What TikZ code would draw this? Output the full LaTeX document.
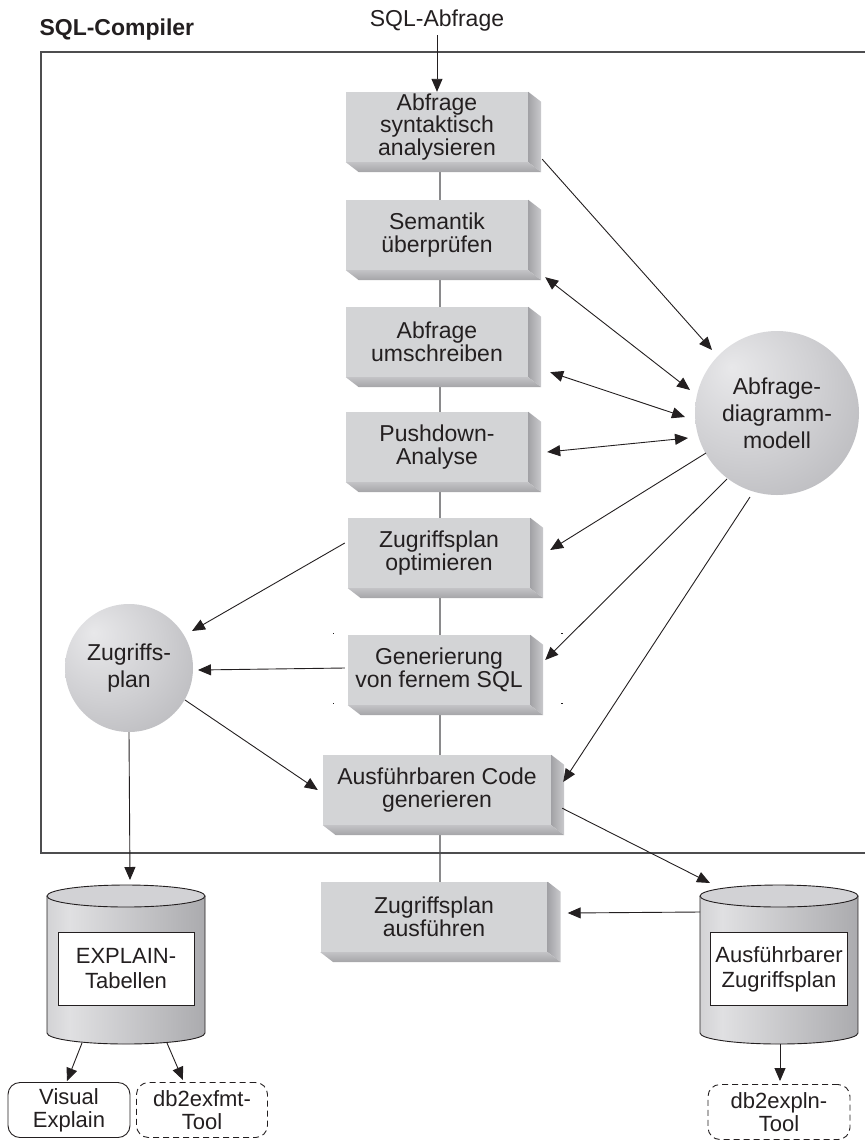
\documentclass[tikz,border=0pt]{standalone}
\usepackage{fontspec}
\setmainfont{Liberation Sans}
\usetikzlibrary{arrows.meta,calc,backgrounds}

\definecolor{ink}{HTML}{231F20}
\definecolor{face}{HTML}{D3D4D6}
\definecolor{sidedark}{HTML}{A2A2A6}
\definecolor{sidelight}{HTML}{CACACD}
\definecolor{bottomlight}{HTML}{C2C2C5}
\definecolor{bottomdark}{HTML}{A4A4A7}
\definecolor{framegrey}{HTML}{4D4D4F}
\definecolor{spine}{HTML}{8A8A8C}
\definecolor{orbhi}{HTML}{E8E8EA}
\definecolor{orbmid}{HTML}{D0D0D3}
\definecolor{orblo}{HTML}{AAAAAE}
\definecolor{orbedge}{HTML}{94949A}
\definecolor{cylA}{HTML}{A3A3A6}
\definecolor{cylB}{HTML}{E0E0E2}
\definecolor{cylC}{HTML}{8C8C90}
\definecolor{captop}{HTML}{D2D2D5}

\pgfdeclareradialshading{orb}{\pgfpoint{-14bp}{14bp}}{color(0bp)=(orbhi); color(22bp)=(orbmid); color(52bp)=(orblo); color(72bp)=(orbedge)}
\pgfdeclarehorizontalshading{cylbody}{100bp}{color(0bp)=(cylA); color(32bp)=(cylB); color(100bp)=(cylC)}

\tikzset{
  txt/.style={text=ink, font=\fontsize{23}{23}\selectfont},
  stepbox/.style={rectangle, fill=face, inner sep=0pt, minimum width=182pt,
    minimum height=70pt, align=center, txt},
  orbnode/.style={circle, shading=orb, inner sep=0pt, align=center, text=ink,
    font=\fontsize{23}{27}\selectfont},
  label box/.style={rectangle, draw=ink, fill=white, line width=0.9pt,
    minimum width=136pt, minimum height=73pt, align=center, inner sep=0pt,
    text=ink, font=\fontsize{22}{25}\selectfont},
  tool/.style={rectangle, rounded corners=12pt, draw=ink, line width=0.9pt,
    minimum height=55pt, align=center, inner sep=0pt, text=ink,
    font=\fontsize{22}{23}\selectfont},
  dashtool/.style={tool, dash pattern=on 6pt off 4pt},
  tip/.tip={Triangle[length=13pt,width=11pt]},
  link/.style={draw=ink, line width=0.9pt, -tip},
  duplex/.style={draw=ink, line width=0.9pt, tip-tip},
  spineline/.style={draw=spine, line width=1.4pt},
  frame/.style={draw=framegrey, line width=1.6pt},
}

% right and bottom faces of a raised process box
\newcommand\raisedepth[1]{%
  \shade[left color=sidedark, right color=sidelight]
    (#1.north east) -- ++(13,10) -- ($(#1.south east)+(13,10)$) -- (#1.south east) -- cycle;
  \shade[top color=bottomlight, bottom color=bottomdark]
    (#1.south west) -- (#1.south east) -- ++(13,10) -- ($(#1.south west)+(13,10)$) -- cycle;
}

% database cylinder: #1 name, #2 centre x, #3 top y
\newcommand\dbstore[3]{%
  \coordinate (#1) at (#2,#3);
  \coordinate (#1b) at (#2,#3+137);
  \shade[shading=cylbody] ($(#1)+(-79,0)$) -- ($(#1b)+(-79,0)$)
    arc[start angle=180, end angle=0, x radius=79, y radius=11]
    -- ($(#1)+(79,0)$) -- cycle;
  \draw[ink, line width=0.9pt] ($(#1)+(-79,0)$) -- ($(#1b)+(-79,0)$)
    arc[start angle=180, end angle=0, x radius=79, y radius=11]
    -- ($(#1)+(79,0)$);
  \filldraw[fill=captop, draw=ink, line width=0.9pt] (#1) ellipse[x radius=79, y radius=11];
}

% tiny square mark
\newcommand\regmark[1]{\fill[ink] #1 rectangle ++(1.4,1.4);}

\begin{document}
\begin{tikzpicture}[x=1pt, y=-1pt]
\useasboundingbox (0,0) rectangle (865,1141);

% compiler frame (open to the right)
\draw[frame] (866,52) -- (41,52) -- (41,853) -- (866,853);

% headings
\node[txt, font=\fontsize{23}{23}\selectfont\bfseries, anchor=west] (title) at (36,30) {SQL-Compiler};
\node[txt] (query) at (437,21) {SQL-Abfrage};

% process steps
\node[stepbox, font=\fontsize{23}{21}\selectfont] (b1) at (437,127) {Abfrage\\syntaktisch\\analysieren};
\node[stepbox] (b2) at (437,235) {Semantik\\überprüfen};
\node[stepbox] (b3) at (437,342) {Abfrage\\umschreiben};
\node[stepbox] (b4) at (437,447) {Pushdown-\\Analyse};
\node[stepbox] (b5) at (439,553) {Zugriffsplan\\optimieren};
\node[stepbox] (b6) at (439,670) {Generierung\\von fernem SQL};
\node[stepbox, minimum width=228pt] (b7) at (437,790) {Ausführbaren Code\\generieren};
\node[stepbox, minimum width=227pt] (b8) at (434,917) {Zugriffsplan\\ausführen};
\raisedepth{b1}\raisedepth{b2}\raisedepth{b3}\raisedepth{b4}
\raisedepth{b5}\raisedepth{b6}\raisedepth{b7}\raisedepth{b8}

% small registration marks around the remote SQL step
\regmark{($(b6.west)+(-15,-37)$)}
\regmark{($(b6.west)+(-15,33)$)}
\regmark{($(b6.east)+(31,-37)$)}
\regmark{($(b6.east)+(31,33)$)}

% spheres
\node[orbnode, minimum size=164pt] (qgm) at (777,413) {Abfrage-\\diagramm-\\modell};
\node[orbnode, minimum size=128pt] (zp) at (129,668) {Zugriffs-\\plan};

% databases
\dbstore{c1}{126}{896}
\dbstore{c2}{779}{896}
\node[label box] (et) at (126,969) {EXPLAIN-\\Tabellen};
\node[label box, minimum width=137pt] (az) at (779,969) {Ausführbarer\\Zugriffsplan};

% tools
\node[tool, minimum width=122pt] (ve) at (69,1110) {Visual\\Explain};
\node[dashtool, minimum width=131pt] (fx) at (202,1110) {db2exfmt-\\Tool};
\node[dashtool, minimum width=142pt] (px) at (779,1112) {db2expln-\\Tool};

% main flow line behind the steps
\begin{pgfonlayer}{background}
  \coordinate (spx) at (440,0);
  \draw[spineline] (b1.south -| spx) -- (b8.north -| spx);
\end{pgfonlayer}

% connectors
\draw[link] (query.south) -- (b1.north);
\draw[link] ($(b1.south east)+(14,-3)$) -- ($(qgm.center)+(-65,-63)$);
\draw[duplex] ($(b2.south east)+(17,7)$) -- ($(qgm.center)+(-87,-23)$);
\draw[duplex] ($(b3.south east)+(22,-5)$) -- ($(qgm.center)+(-92,4)$);
\draw[duplex] ($(b4.east)+(19,5)$) -- ($(qgm.center)+(-89,25)$);
\draw[link] ($(qgm.center)+(-71,40)$) -- ($(b5.east)+(20,-3)$);
\draw[link] ($(qgm.center)+(-50,66)$) -- ($(b6.east)+(15,-10)$);
\draw[link] ($(qgm.center)+(-27,84)$) -- ($(b7.east)+(12,-8)$);

\draw[link] ($(b5.west)+(-3,-10)$) -- ($(zp.center)+(63,-37)$);
\draw[link] ($(b6.west)+(-3,-2)$) -- ($(zp.center)+(69,2)$);
\draw[link] ($(zp.center)+(56,32)$) -- ($(b7.west)+(-5,0)$);
\draw[link] (zp.south) -- ($(c1)+(4,-16)$);

\draw[link] ($(b7.south east)+(11,-17)$) -- ($(c2)+(-69,-13)$);
\draw[link] ($(c2)+(-79,16)$) -- ($(b8.east)+(20,-4)$);

\draw[link] ($(c1b)+(-44,10)$) -- ($(ve.north)+(-2,-1)$);
\draw[link] ($(c1b)+(41,10)$) -- ($(fx.north)+(-19,-2)$);
\draw[link] ($(c2b)+(1,11)$) -- ($(px.north)+(1,-3)$);
\end{tikzpicture}
\end{document}
